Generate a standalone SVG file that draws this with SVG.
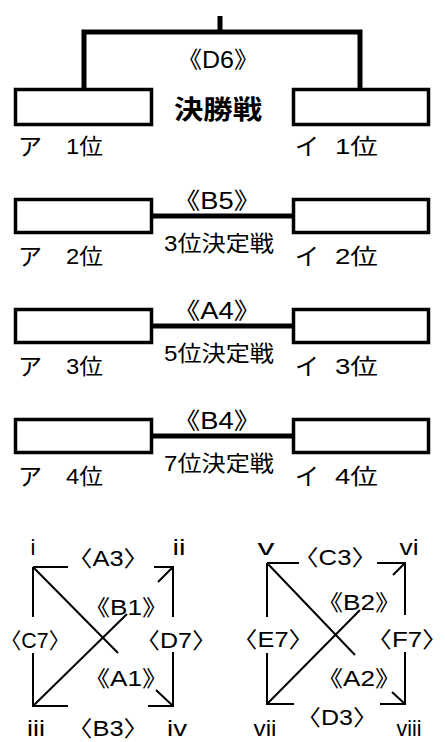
<svg xmlns="http://www.w3.org/2000/svg" width="445" height="742" viewBox="0 0 445 742">
<style>
.box{fill:#fff;stroke:#000;stroke-width:3.5}
.thick{fill:none;stroke:#000;stroke-width:5}
.thin{fill:none;stroke:#000;stroke-width:2}
text{font-family:"Liberation Sans","Noto Sans CJK JP",sans-serif;fill:#000}
.t{font-size:22px}
.k{font-size:24px}
.m{font-size:23px}
.c{text-anchor:middle}
.b{font-size:26px;font-weight:bold}
</style>
<rect width="445" height="742" fill="#fff"/>
<g id="connectors">
<path class="thick" d="M220,16V32M84,89V32H360V89"/>
<path class="thick" d="M153,216H292M153,326H292M153,436H292"/>
<path class="thin" d="M33,567H68M154,567H173V617M173,652V706H148M68,706H33V653M33,617V567"/>
<path class="thin" d="M33,567L118,653M156,690L173,706M33,706L127,614M158,582L173,567"/>
<path class="thin" d="M267,563H299M377,563H405V615M405,652V704H380M294,704H267V653M267,617V563"/>
<path class="thin" d="M267,563L355,655M392,692L405,704M267,704L360,610M393,575L405,563"/>
</g>
<g id="final">
<rect class="box" x="15.5" y="89.5" width="136" height="35"/>
<rect class="box" x="293.5" y="89.5" width="135" height="35"/>
<text class="m c" x="218" y="68" textLength="82" lengthAdjust="spacingAndGlyphs">《D6》</text>
<text class="b c" x="218" y="119" textLength="88" lengthAdjust="spacingAndGlyphs">決勝戦</text>
<text class="k" x="18" y="155">ア</text>
<text class="t" x="66" y="154" textLength="37" lengthAdjust="spacingAndGlyphs">1位</text>
<text class="k" x="295" y="155">イ</text>
<text class="t" x="335" y="154" textLength="43" lengthAdjust="spacingAndGlyphs">1位</text>
</g>
<g id="third">
<rect class="box" x="15.5" y="199.5" width="136" height="33"/>
<rect class="box" x="293.5" y="199.5" width="135" height="33"/>
<text class="m c" x="217" y="209" textLength="88" lengthAdjust="spacingAndGlyphs">《B5》</text>
<text class="t c" x="219" y="251" textLength="110" lengthAdjust="spacingAndGlyphs">3位決定戦</text>
<text class="k" x="18" y="265">ア</text>
<text class="t" x="66" y="264" textLength="37" lengthAdjust="spacingAndGlyphs">2位</text>
<text class="k" x="295" y="265">イ</text>
<text class="t" x="335" y="264" textLength="43" lengthAdjust="spacingAndGlyphs">2位</text>
</g>
<g id="fifth">
<rect class="box" x="15.5" y="309.5" width="136" height="33"/>
<rect class="box" x="293.5" y="309.5" width="135" height="33"/>
<text class="m c" x="217" y="319" textLength="88" lengthAdjust="spacingAndGlyphs">《A4》</text>
<text class="t c" x="219" y="361" textLength="110" lengthAdjust="spacingAndGlyphs">5位決定戦</text>
<text class="k" x="18" y="375">ア</text>
<text class="t" x="66" y="374" textLength="37" lengthAdjust="spacingAndGlyphs">3位</text>
<text class="k" x="295" y="375">イ</text>
<text class="t" x="335" y="374" textLength="43" lengthAdjust="spacingAndGlyphs">3位</text>
</g>
<g id="seventh">
<rect class="box" x="15.5" y="419.5" width="136" height="33"/>
<rect class="box" x="293.5" y="419.5" width="135" height="33"/>
<text class="m c" x="217" y="429" textLength="88" lengthAdjust="spacingAndGlyphs">《B4》</text>
<text class="t c" x="219" y="471" textLength="110" lengthAdjust="spacingAndGlyphs">7位決定戦</text>
<text class="k" x="18" y="485">ア</text>
<text class="t" x="66" y="484" textLength="37" lengthAdjust="spacingAndGlyphs">4位</text>
<text class="k" x="295" y="485">イ</text>
<text class="t" x="335" y="484" textLength="43" lengthAdjust="spacingAndGlyphs">4位</text>
</g>
<g id="league1">
<text class="t c" x="33" y="555">i</text>
<text class="t c" x="179" y="555" textLength="13" lengthAdjust="spacingAndGlyphs">ii</text>
<text class="t c" x="36" y="736" textLength="18" lengthAdjust="spacingAndGlyphs">iii</text>
<text class="t c" x="177" y="736" textLength="20" lengthAdjust="spacingAndGlyphs">iv</text>
<text class="t c" x="108" y="566" textLength="82" lengthAdjust="spacingAndGlyphs">〈A3〉</text>
<text class="t" x="0" y="648" textLength="70" lengthAdjust="spacingAndGlyphs">〈C7〉</text>
<text class="t c" x="176" y="648" textLength="82" lengthAdjust="spacingAndGlyphs">〈D7〉</text>
<text class="t c" x="126" y="615" textLength="84" lengthAdjust="spacingAndGlyphs">《B1》</text>
<text class="t c" x="126" y="686" textLength="84" lengthAdjust="spacingAndGlyphs">《A1》</text>
<text class="t c" x="108" y="736" textLength="82" lengthAdjust="spacingAndGlyphs">〈B3〉</text>
</g>
<g id="league2">
<text class="t c" x="266" y="555" textLength="17" lengthAdjust="spacingAndGlyphs">v</text>
<text class="t c" x="409" y="555" textLength="19" lengthAdjust="spacingAndGlyphs">vi</text>
<text class="t c" x="265" y="736" textLength="23" lengthAdjust="spacingAndGlyphs">vii</text>
<text class="t c" x="409" y="736" textLength="25" lengthAdjust="spacingAndGlyphs">viii</text>
<text class="t c" x="335" y="565" textLength="84" lengthAdjust="spacingAndGlyphs">〈C3〉</text>
<text class="t c" x="273" y="647" textLength="82" lengthAdjust="spacingAndGlyphs">〈E7〉</text>
<text class="t c" x="407" y="647" textLength="82" lengthAdjust="spacingAndGlyphs">〈F7〉</text>
<text class="t c" x="359" y="610" textLength="84" lengthAdjust="spacingAndGlyphs">《B2》</text>
<text class="t c" x="359" y="686" textLength="84" lengthAdjust="spacingAndGlyphs">《A2》</text>
<text class="t c" x="337" y="725" textLength="82" lengthAdjust="spacingAndGlyphs">〈D3〉</text>
</g>
</svg>
